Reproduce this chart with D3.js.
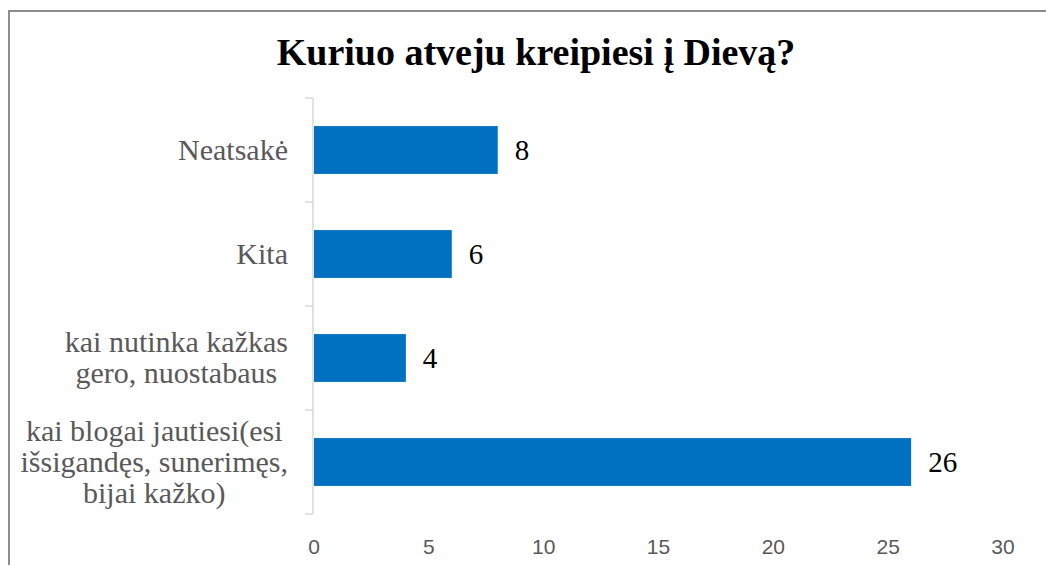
<!DOCTYPE html>
<html>
<head>
<meta charset="utf-8">
<script src="https://cdn.jsdelivr.net/npm/d3@7"></script>
<style>
  body { margin: 0; background: #fff; }
  svg { display: block; }
</style>
</head>
<body>
<script>
const width = 1046, height = 565;

// chart data
const title = "Kuriuo atveju kreipiesi į Dievą?";
const categories = [
  ["Neatsakė"],
  ["Kita"],
  ["kai nutinka kažkas", "gero, nuostabaus"],
  ["kai blogai jautiesi(esi", "išsigandęs, sunerimęs,", "bijai kažko)"]
];
const values = [8, 6, 4, 26];
const xTicks = [0, 5, 10, 15, 20, 25, 30];

const svg = d3.select("body").append("svg")
  .attr("width", width)
  .attr("height", height);

// outer frame (only left and top visible in the picture)
svg.append("rect")
  .attr("x", 9).attr("y", 11)
  .attr("width", width + 20).attr("height", height + 20)
  .attr("fill", "none")
  .attr("stroke", "#8c8c8c")
  .attr("stroke-width", 2);

svg.append("text")
  .attr("x", 536).attr("y", 65)
  .attr("text-anchor", "middle")
  .style("font-family", "'Liberation Serif', 'Times New Roman', serif")
  .style("font-weight", "bold")
  .style("font-size", "38px")
  .attr("fill", "#000")
  .text(title);

const x = d3.scaleLinear().domain([0, 30]).range([314, 1003]);
const y = d3.scaleBand()
  .domain(d3.range(categories.length))
  .range([98, 514])
  .paddingInner(0.54)
  .paddingOuter(0.27);

// bars
svg.selectAll(".bar")
  .data(values)
  .enter().append("rect")
  .attr("class", "bar")
  .attr("x", x(0))
  .attr("y", (d, i) => y(i))
  .attr("width", d => x(d) - x(0))
  .attr("height", y.bandwidth())
  .attr("fill", "#0070c0");

// value labels
svg.selectAll(".val")
  .data(values)
  .enter().append("text")
  .attr("class", "val")
  .attr("x", d => x(d) + 17)
  .attr("y", (d, i) => y(i) + y.bandwidth() / 2)
  .attr("dy", "0.34em")
  .style("font-family", "'Liberation Serif', 'Times New Roman', serif")
  .style("font-size", "29px")
  .attr("fill", "#000")
  .text(d => d);

// vertical category axis with ticks between categories
const step = y.step();
const y0 = y.range()[0];
const axisG = svg.append("g").attr("stroke", "#d9d9d9").attr("stroke-width", 1.5);
axisG.append("line")
  .attr("x1", x(0) - 1).attr("x2", x(0) - 1)
  .attr("y1", y0).attr("y2", y0 + step * categories.length);
axisG.selectAll(".tk")
  .data(d3.range(categories.length + 1))
  .enter().append("line")
  .attr("x1", x(0) - 9).attr("x2", x(0) - 1)
  .attr("y1", i => y0 + i * step)
  .attr("y2", i => y0 + i * step);

// category labels: block right aligned, lines centred inside block
const lineH = 31;
const labelRight = 288;
categories.forEach((lines, i) => {
  const cy = y(i) + y.bandwidth() / 2;
  const g = svg.append("g");
  const texts = lines.map((t, j) => g.append("text")
    .attr("y", cy + (j - (lines.length - 1) / 2) * lineH)
    .attr("dy", "0.33em")
    .attr("text-anchor", "middle")
    .style("font-family", "'Liberation Serif', 'Times New Roman', serif")
    .style("font-size", "30px")
    .attr("fill", "#595959")
    .text(t));
  const maxW = d3.max(texts, t => t.node().getComputedTextLength());
  texts.forEach(t => t.attr("x", labelRight - maxW / 2));
});

// x tick labels (no axis line)
svg.selectAll(".xt")
  .data(xTicks)
  .enter().append("text")
  .attr("class", "xt")
  .attr("x", d => x(d))
  .attr("y", 554)
  .attr("text-anchor", "middle")
  .style("font-family", "'Liberation Sans', Arial, sans-serif")
  .style("font-size", "21px")
  .attr("fill", "#595959")
  .text(d => d);
</script>
</body>
</html>
